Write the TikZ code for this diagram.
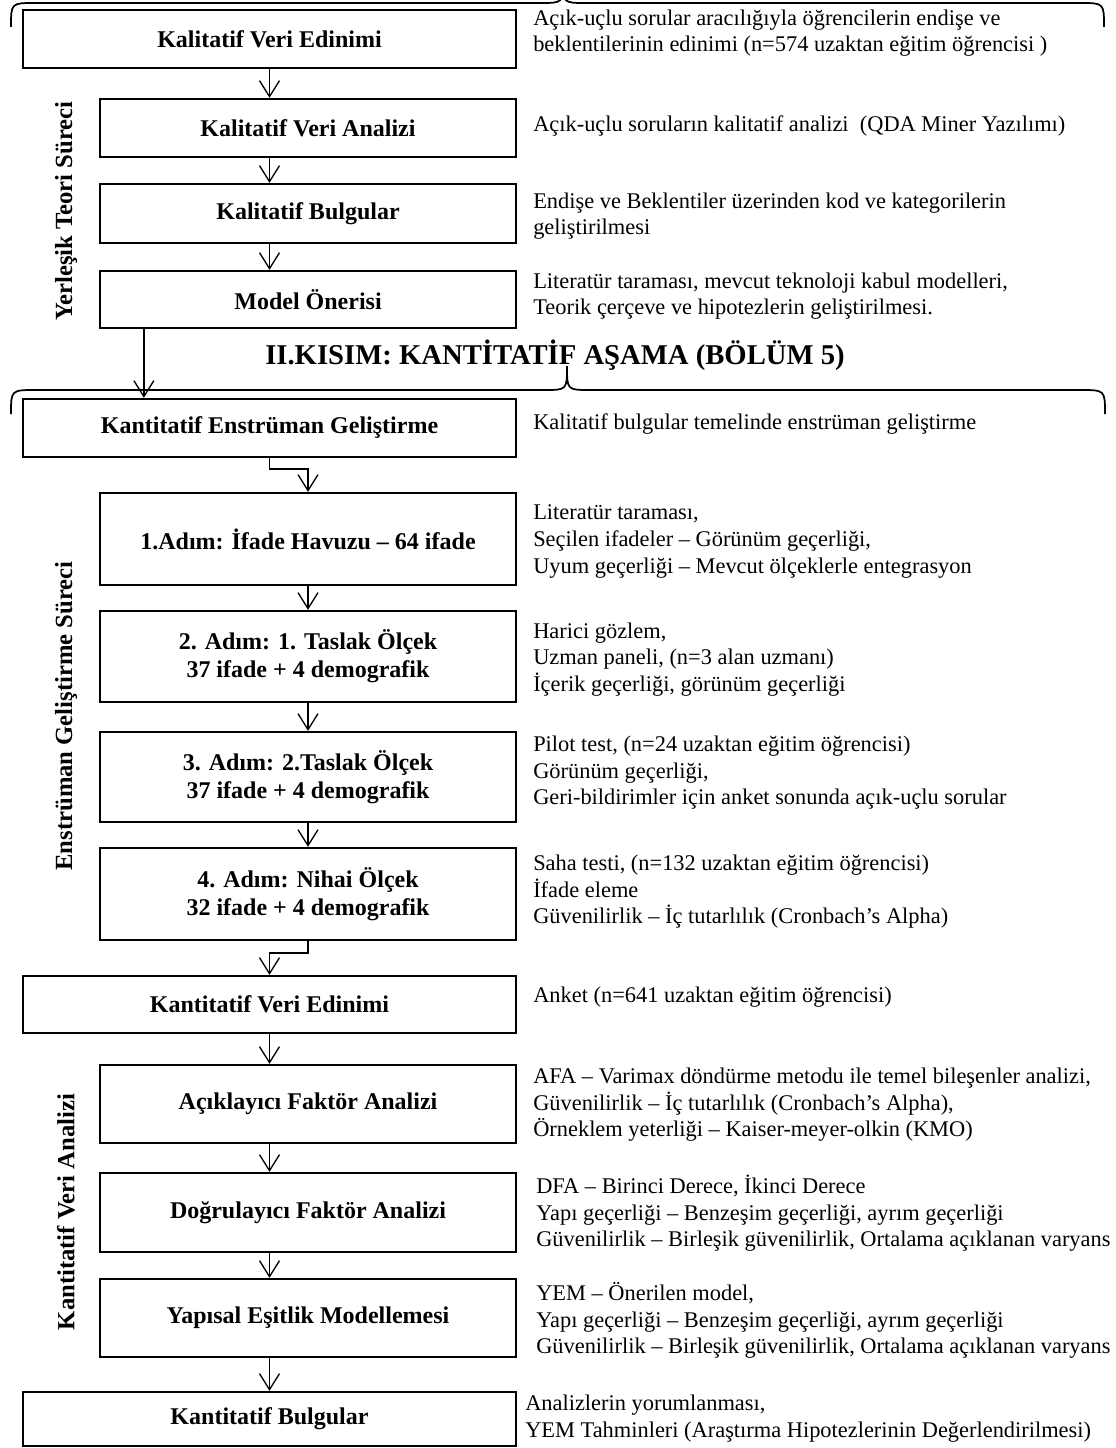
\documentclass[tikz,border=0pt]{standalone}
\usepackage{fontspec}
\setmainfont{Liberation Serif}
\usetikzlibrary{arrows.meta}
\begin{document}
\begin{tikzpicture}[x=0.75pt,y=-0.75pt,
  stagebox/.style={draw, line width=1.7pt, rectangle, inner sep=2pt, align=center,
    font=\fontsize{18}{21}\selectfont\bfseries},
  widebox/.style={stagebox, minimum width=369.75pt},
  innerbox/.style={stagebox, minimum width=312pt},
  note/.style={anchor=west, align=left, inner sep=0pt,
    font=\fontsize{16.8}{19.9}\selectfont},
  flow/.style={line width=1pt, -{Straight Barb[length=12pt,width=15pt]}},
  phase/.style={rotate=90, inner sep=0pt, font=\fontsize{18.5}{22}\selectfont\bfseries},
  brace/.style={line width=1.3pt},
]
\useasboundingbox (0,0) rectangle (1115,1448);
\fill[white] (0,0) rectangle (1115,1448);
\clip (0,0) rectangle (1115,1448);

% ---------- braces ----------
\draw[brace] (11,27) .. controls (11,3) .. (35,3) -- (540,3)
  .. controls (563,3) .. (563,-20);
\draw[brace] (563,-20) .. controls (563,3) .. (586,3) -- (1080,3)
  .. controls (1104,3) .. (1104,27);
\draw[brace] (11,414) .. controls (11,390) .. (36,390) -- (544,390)
  .. controls (567,390) .. (567,366) .. controls (567,390) .. (590,390)
  -- (1080,390) .. controls (1105,390) .. (1105,414);

\node[anchor=base, inner sep=0pt, font=\fontsize{21.5}{25}\selectfont\bfseries]
  (part2) at (555,364) {II.KISIM: KANTİTATİF AŞAMA (BÖLÜM 5)};

% ---------- phase labels ----------
\node[phase] (ph1) at (66,211) {Yerleşik Teori Süreci};
\node[phase] (ph2) at (66,716) {Enstrüman Geliştirme Süreci};
\node[phase] (ph3) at (66,1212) {Kantitatif Veri Analizi};

% ---------- stage boxes ----------
\node[widebox, minimum height=43.5pt]  (b1) at (269.5,39)   {Kalitatif Veri Edinimi};
\node[innerbox, minimum height=43.5pt] (b2) at (308,128)    {Kalitatif Veri Analizi};
\node[innerbox, minimum height=44.25pt](b3) at (308,213.5)  {Kalitatif Bulgular};
\node[innerbox, minimum height=42.75pt](b4) at (308,299.5)  {Model Önerisi};
\node[widebox, minimum height=43.5pt]  (b5) at (269.5,428)  {Kantitatif Enstrüman Geliştirme};
\node[innerbox, minimum height=69pt]   (a1) at (308,539)    {1.Adım: İfade Havuzu – 64 ifade};
\node[innerbox, minimum height=68.25pt](a2) at (308,656.5)  {2. Adım: 1. Taslak Ölçek\\37 ifade + 4 demografik};
\node[innerbox, minimum height=67.5pt] (a3) at (308,777)    {3. Adım: 2.Taslak Ölçek\\37 ifade + 4 demografik};
\node[innerbox, minimum height=69pt]   (a4) at (308,894)    {4. Adım: Nihai Ölçek\\32 ifade + 4 demografik};
\node[widebox, minimum height=42.75pt] (kve) at (269.5,1004.5) {Kantitatif Veri Edinimi};
\node[innerbox, minimum height=58.5pt] (afa) at (308,1104)  {Açıklayıcı Faktör Analizi};
\node[innerbox, minimum height=59.25pt](dfa) at (308,1212.5) {Doğrulayıcı Faktör Analizi};
\node[innerbox, minimum height=58.5pt] (yem) at (308,1318)  {Yapısal Eşitlik Modellemesi};
\node[widebox, minimum height=40.5pt]  (kb) at (269.5,1419) {Kantitatif Bulgular};

% ---------- notes ----------
\node[note] (n1) at (533,33) {Açık-uçlu sorular aracılığıyla öğrencilerin endişe ve\\beklentilerinin edinimi (n=574 uzaktan eğitim öğrencisi )};
\node[note] (n2) at (533,126) {Açık-uçlu soruların kalitatif analizi\ \ (QDA Miner Yazılımı)};
\node[note] (n3) at (533,216) {Endişe ve Beklentiler üzerinden kod ve kategorilerin\\geliştirilmesi};
\node[note] (n4) at (533,296) {Literatür taraması, mevcut teknoloji kabul modelleri,\\Teorik çerçeve ve hipotezlerin geliştirilmesi.};
\node[note] (n5) at (533,424) {Kalitatif bulgular temelinde enstrüman geliştirme};
\node[note] (n6) at (533,541.5) {Literatür taraması,\\Seçilen ifadeler – Görünüm geçerliği,\\Uyum geçerliği – Mevcut ölçeklerle entegrasyon};
\node[note] (n7) at (533,659.5) {Harici gözlem,\\Uzman paneli, (n=3 alan uzmanı)\\İçerik geçerliği, görünüm geçerliği};
\node[note] (n8) at (533,773) {Pilot test, (n=24 uzaktan eğitim öğrencisi)\\Görünüm geçerliği,\\Geri-bildirimler için anket sonunda açık-uçlu sorular};
\node[note] (n9) at (533,892) {Saha testi, (n=132 uzaktan eğitim öğrencisi)\\İfade eleme\\Güvenilirlik – İç tutarlılık (Cronbach’s Alpha)};
\node[note] (n10) at (533,997) {Anket (n=641 uzaktan eğitim öğrencisi)};
\node[note] (n11) at (533,1105) {AFA – Varimax döndürme metodu ile temel bileşenler analizi,\\Güvenilirlik – İç tutarlılık (Cronbach’s Alpha),\\Örneklem yeterliği – Kaiser-meyer-olkin (KMO)};
\node[note] (n12) at (536,1213.5) {DFA – Birinci Derece, İkinci Derece\\Yapı geçerliği – Benzeşim geçerliği, ayrım geçerliği\\Güvenilirlik – Birleşik güvenilirlik, Ortalama açıklanan varyans};
\node[note] (n13) at (536,1320.5) {YEM – Önerilen model,\\Yapı geçerliği – Benzeşim geçerliği, ayrım geçerliği\\Güvenilirlik – Birleşik güvenilirlik, Ortalama açıklanan varyans};
\node[note] (n14) at (525,1418.5) {Analizlerin yorumlanması,\\YEM Tahminleri (Araştırma Hipotezlerinin Değerlendirilmesi)};

% ---------- connectors ----------
\draw[flow] (b1.south) -- (b1.south |- b2.north);
\draw[flow] (b1.south |- b2.south) -- (b1.south |- b3.north);
\draw[flow] (b1.south |- b3.south) -- (b1.south |- b4.north);
\draw[flow] ([xshift=33.75pt]b4.south west) -- ([xshift=33.75pt]b4.south west |- b5.north);
\draw[flow] (b5.south) -- ++(0,11) -| (a1.north);
\draw[flow] (a1.south) -- (a2.north);
\draw[flow] (a2.south) -- (a3.north);
\draw[flow] (a3.south) -- (a4.north);
\draw[flow] (a4.south) -- ++(0,12) -| (kve.north);
\draw[flow] (kve.south) -- (kve.south |- afa.north);
\draw[flow] (kve.south |- afa.south) -- (kve.south |- dfa.north);
\draw[flow] (kve.south |- dfa.south) -- (kve.south |- yem.north);
\draw[flow] (kve.south |- yem.south) -- (kb.north);
\end{tikzpicture}
\end{document}
